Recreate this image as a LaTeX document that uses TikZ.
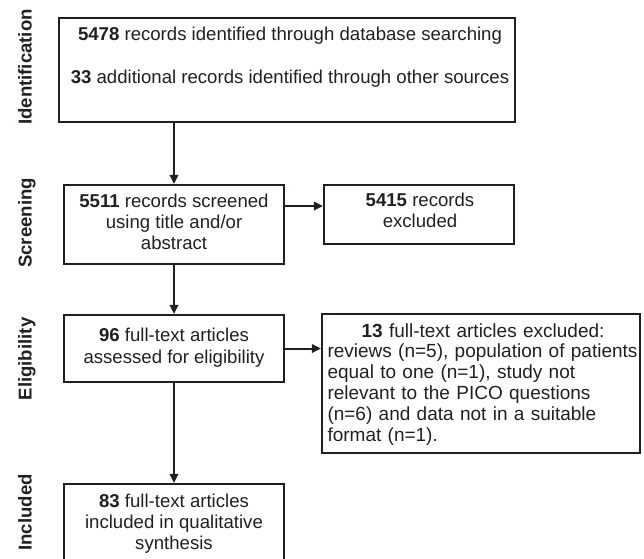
\documentclass[tikz,border=0pt]{standalone}
\usepackage{fontspec}
\setmainfont{Liberation Sans}
\usetikzlibrary{arrows.meta}
\definecolor{ink}{RGB}{35,31,32}
\begin{document}
\begin{tikzpicture}[x=1pt,y=-1pt,
  box/.style={draw=ink,line width=2.2pt,inner sep=0pt},
  txt/.style={text=ink,align=center,inner sep=0pt,font=\fontsize{18.6}{21.4}\selectfont,
    execute at begin node=\strut,execute at end node=\strut},
  stage/.style={text=ink,rotate=90,inner sep=0pt,text height=13.3pt,text depth=0pt,
    font=\fontsize{18.6}{21.4}\selectfont\bfseries},
  conn/.style={draw=ink,line width=2pt,-{Triangle[length=9pt,width=8.5pt]}}]
\clip (0,0) rectangle (644,558);
% boxes
\node[box,minimum width=456,minimum height=104] (ident) at (287,70) {};
\node[box,minimum width=220,minimum height=79] (screen) at (174,224.5) {};
\node[box,minimum width=190,minimum height=59] (excla) at (419,214.5) {};
\node[box,minimum width=220,minimum height=67] (elig) at (174,348.5) {};
\node[box,minimum width=318,minimum height=139] (exclb) at (481,383.5) {};
\node[box,minimum width=220,minimum height=82] (incl) at (174,525) {};
% texts
\node[txt] (identtxt) at (290,58.5) {\textbf{5478} records identified through database searching\\[21.6pt]\textbf{33} additional records identified through other sources};
\node[txt] (screentxt) at (174,225) {\textbf{5511} records screened\\using title and/or\\abstract};
\node[txt] (exclatxt) at (420,213.5) {\textbf{5415} records\\excluded};
\node[txt] (eligtxt) at (174,349) {\textbf{96} full-text articles\\assessed for eligibility};
\node[txt,align=left,text width=311pt,font=\fontsize{19}{20.8}\selectfont] (exclbtxt) at (483,385) {\makebox[\linewidth][c]{\textbf{13} full-text articles excluded:}\\reviews (n=5), population of patients\\equal to one (n=1), study not\\relevant to the PICO questions\\(n=6) and data not in a suitable\\format (n=1).};
\node[txt] (incltxt) at (174,525) {\textbf{83} full-text articles\\included in qualitative\\synthesis};
% stage labels
\node[stage] (sident) at (25,67) {Identification};
\node[stage] (sscreen) at (25,223) {Screening};
\node[stage] (selig) at (25,359) {Eligibility};
\node[stage] (sincl) at (25,512.5) {Included};
% connectors
\coordinate (ya) at (0,206);
\draw[conn] (ident.south -| screen.north) -- (screen.north);
\draw[conn] (screen.south) -- (elig.north);
\draw[conn] (elig.south) -- (incl.north);
\draw[conn] (screen.east |- ya) -- (excla.west |- ya);
\draw[conn] (elig.east) -- (elig.east -| exclb.west);
\end{tikzpicture}
\end{document}
